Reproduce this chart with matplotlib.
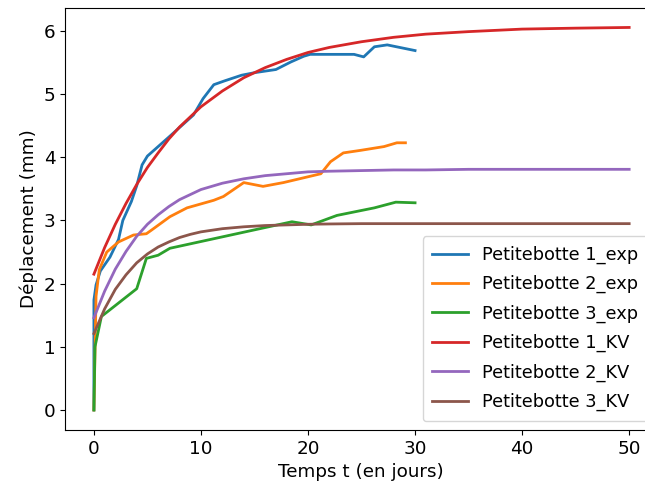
import numpy as np
import matplotlib
matplotlib.use("Agg")
import matplotlib.pyplot as plt

plt.rcParams['font.family'] = ['DejaVu Sans']
plt.rcParams['font.size'] = 13.2

# mesures (exp)
t1_exp = [0, 0, 0.2, 0.6, 1.5, 2.3, 2.7, 3.5, 4.0, 4.5, 5.0, 7.0, 9.3, 10.2, 11.2, 12.2,
          13.8, 15.0, 17.0, 18.4, 19.6, 20.2, 24.3, 25.2, 26.2, 27.4, 30.0]
d1_exp = [0, 1.74, 1.98, 2.2, 2.42, 2.7, 3.0, 3.3, 3.55, 3.88, 4.02, 4.32, 4.67, 4.93, 5.15, 5.21,
          5.30, 5.34, 5.39, 5.51, 5.60, 5.63, 5.63, 5.59, 5.75, 5.78, 5.69]

t2_exp = [0, 0.2, 0.5, 1.2, 2.3, 3.7, 4.9, 5.4, 7.1, 8.7, 11.2, 12.1, 14.0, 15.8, 17.7,
          21.2, 22.1, 23.3, 24.9, 27.1, 28.3, 29.1]
d2_exp = [0, 1.8, 2.22, 2.5, 2.66, 2.77, 2.79, 2.85, 3.06, 3.2, 3.32, 3.38, 3.60, 3.54, 3.60,
          3.74, 3.93, 4.07, 4.11, 4.17, 4.23, 4.23]

t3_exp = [0, 0.1, 0.7, 4.0, 4.9, 6.0, 7.1, 15.5, 18.5, 20.3, 22.7, 26.2, 28.2, 30.0]
d3_exp = [0, 1.0, 1.48, 1.92, 2.40, 2.45, 2.56, 2.87, 2.98, 2.93, 3.08, 3.20, 3.29, 3.28]

# modele Kelvin-Voigt
t_kv = [0, 1, 2, 3, 4, 5, 6, 7, 8, 9, 10, 12, 14, 16, 18, 20, 22, 25, 28, 31, 35, 40, 45, 50]
d1_kv = [2.15, 2.57, 2.94, 3.27, 3.57, 3.84, 4.07, 4.29, 4.48, 4.64, 4.80, 5.05, 5.26, 5.42,
         5.55, 5.66, 5.74, 5.83, 5.90, 5.95, 5.99, 6.03, 6.045, 6.056]
d2_kv = [1.46, 1.88, 2.23, 2.51, 2.75, 2.94, 3.09, 3.22, 3.33, 3.41, 3.49, 3.59, 3.66, 3.71,
         3.74, 3.77, 3.78, 3.79, 3.80, 3.80, 3.81, 3.81, 3.81, 3.81]
d3_kv = [1.21, 1.60, 1.91, 2.14, 2.33, 2.47, 2.58, 2.66, 2.73, 2.78, 2.82, 2.87, 2.90, 2.92,
         2.93, 2.94, 2.945, 2.95, 2.95, 2.95, 2.95, 2.95, 2.95, 2.95]

fig = plt.figure(figsize=(6.45, 4.95), dpi=100)
ax = fig.add_axes([65 / 645, 65 / 495, 592 / 645, 422 / 495])

ax.plot(t1_exp, d1_exp, lw=2, label='Petitebotte 1_exp')
ax.plot(t2_exp, d2_exp, lw=2, label='Petitebotte 2_exp')
ax.plot(t3_exp, d3_exp, lw=2, label='Petitebotte 3_exp')
ax.plot(t_kv, d1_kv, lw=2, label='Petitebotte 1_KV')
ax.plot(t_kv, d2_kv, lw=2, label='Petitebotte 2_KV')
ax.plot(t_kv, d3_kv, lw=2, label='Petitebotte 3_KV')

ax.set_xlim(-2.7, 52.6)
ax.set_ylim(-0.317, 6.364)
ax.set_xlabel('Temps t (en jours)')
ax.set_ylabel('Déplacement (mm)')
ax.legend(loc='lower right', fontsize=12.8, labelspacing=0.63, borderpad=0.55)

fig.savefig('out.png', dpi=100)
